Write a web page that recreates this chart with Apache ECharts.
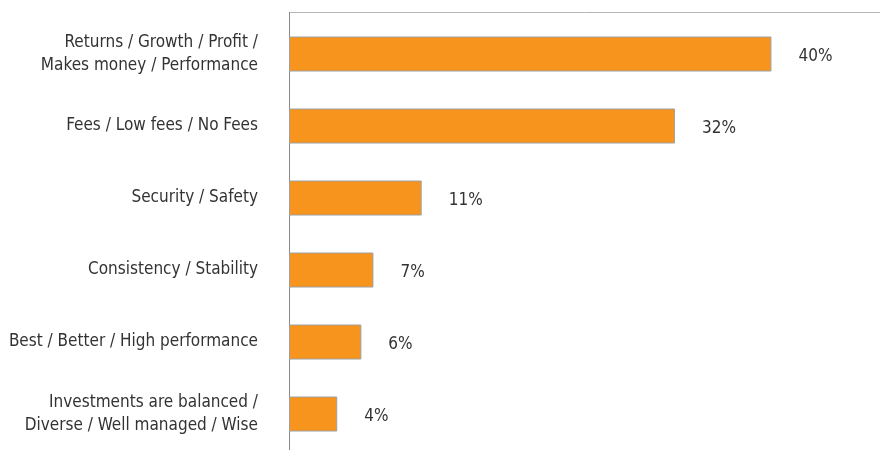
<!DOCTYPE html>
<html><head><meta charset="utf-8">
<script src="https://cdn.jsdelivr.net/npm/echarts@6/dist/echarts.min.js"></script>
<style>html,body{margin:0;padding:0;background:#fff}#c{width:880px;height:450px}</style>
</head><body><div id="c"></div>
<script>
const categories = [
  "Returns / Growth / Profit /\nMakes money / Performance",
  "Fees / Low fees / No Fees",
  "Security / Safety",
  "Consistency / Stability",
  "Best / Better / High performance",
  "Investments are balanced /\nDiverse / Well managed / Wise"
];
const values = [40, 32, 11, 7, 6, 4];
const FONT = "'Liberation Sans Narrow', 'DejaVu Sans Condensed', sans-serif";
const chart = echarts.init(document.getElementById('c'));
chart.setOption({
  animation: false,
  grid: {left: 289, top: 18, right: 0, bottom: 0, containLabel: false},
  xAxis: {type: 'value', min: 0, max: 49, show: false},
  yAxis: {
    type: 'category', data: categories, inverse: true,
    axisLine: {show: true, lineStyle: {color: '#8a8a8a', width: 1}},
    axisTick: {show: false},
    axisLabel: {color: '#333333', fontFamily: FONT, fontSize: 17, lineHeight: 23, margin: 31, align: 'right'}
  },
  graphic: [
    {type: 'line', shape: {x1: 289.5, y1: 12.5, x2: 880, y2: 12.5}, style: {stroke: '#b5b5b5', lineWidth: 1}},
    {type: 'line', shape: {x1: 289.5, y1: 12, x2: 289.5, y2: 19}, style: {stroke: '#8a8a8a', lineWidth: 1}}
  ],
  series: [{
    type: 'bar', data: values, barWidth: 35,
    itemStyle: {color: '#F7941E', borderColor: '#a0a0a0', borderWidth: 1},
    label: {show: true, position: 'right', distance: 27, offset: [0, 3], formatter: '{c}%', color: '#333333', fontFamily: FONT, fontSize: 17}
  }]
});
</script></body></html>
